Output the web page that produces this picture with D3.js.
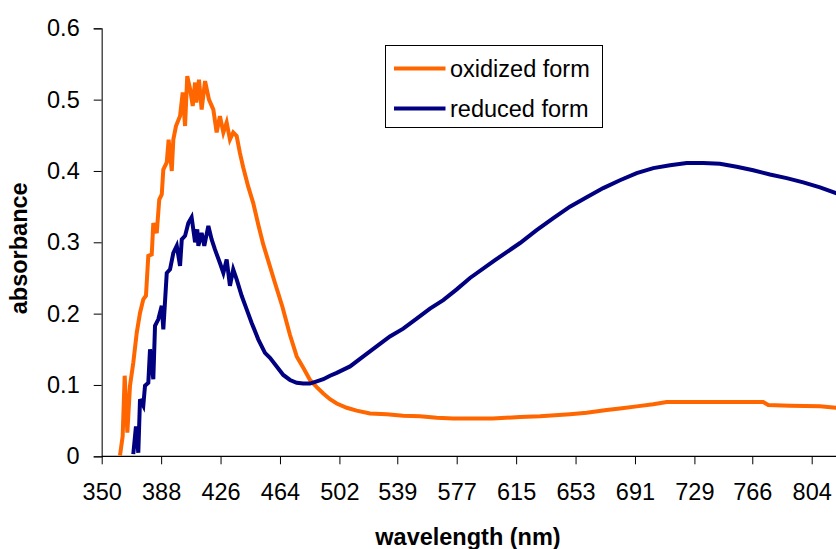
<!DOCTYPE html>
<html>
<head>
<meta charset="utf-8">
<script src="https://cdn.jsdelivr.net/npm/d3@7"></script>
<style>
	body { margin: 0; background: #fff; }
	svg { display: block; font-family: "Liberation Sans", Arial, sans-serif; }
</style>
</head>
<body>
<div id="chart"></div>
<script>
// wavelength (nm), absorbance
const oxidized = [
	[361.7, 0.001], [363.4, 0.028], [364.7, 0.113], [366.4, 0.033], [368.1, 0.099],
	[370.2, 0.131], [372.4, 0.173], [374.5, 0.201], [376.6, 0.220], [378.3, 0.225],
	[379.8, 0.281], [382.0, 0.283], [383.0, 0.327], [385.2, 0.313], [386.8, 0.360],
	[388.4, 0.367], [389.4, 0.402], [391.6, 0.412], [392.8, 0.444], [394.8, 0.400],
	[395.8, 0.444], [397.5, 0.463], [400.1, 0.477], [401.8, 0.510], [403.3, 0.463],
	[404.7, 0.533], [406.5, 0.515], [408.2, 0.491], [409.7, 0.524], [410.5, 0.496],
	[412.2, 0.528], [413.9, 0.486], [416.1, 0.526], [418.6, 0.500], [421.4, 0.486],
	[423.5, 0.454], [425.6, 0.477], [427.8, 0.454], [429.9, 0.468], [432.0, 0.444],
	[434.1, 0.454], [436.3, 0.449], [438.4, 0.425], [440.5, 0.405], [443.7, 0.378],
	[446.9, 0.355], [450.1, 0.325], [453.3, 0.297], [456.5, 0.274], [460.8, 0.243],
	[465.5, 0.210], [470.4, 0.170], [474.7, 0.140], [478.9, 0.124], [483.2, 0.107],
	[487.5, 0.097], [491.7, 0.088], [496.0, 0.080], [500.3, 0.074], [506.7, 0.068],
	[513.0, 0.064], [521.6, 0.060], [532.2, 0.059], [542.8, 0.057], [553.5, 0.056],
	[564.2, 0.054], [574.8, 0.053], [585.5, 0.053], [600.0, 0.053], [617.5, 0.055],
	[630.3, 0.056], [649.4, 0.059], [660.1, 0.061], [672.9, 0.065], [681.4, 0.067],
	[692.1, 0.070], [702.7, 0.073], [711.3, 0.076], [745.3, 0.076], [773.0, 0.076],
	[776.2, 0.072], [790.1, 0.071], [809.3, 0.070], [819.5, 0.068], [822.0, 0.068]
];

const reduced = [
	[370.2, 0.003], [371.9, 0.042], [373.4, 0.005], [374.5, 0.080], [376.6, 0.071],
	[377.7, 0.099], [379.8, 0.103], [380.9, 0.150], [383.0, 0.108], [384.1, 0.183],
	[386.2, 0.192], [388.4, 0.211], [389.4, 0.178], [391.6, 0.257], [393.7, 0.262],
	[395.8, 0.285], [398.0, 0.295], [400.1, 0.267], [401.2, 0.304], [403.3, 0.309],
	[405.4, 0.327], [407.5, 0.335], [409.7, 0.300], [411.1, 0.318], [411.8, 0.295],
	[413.9, 0.313], [415.6, 0.295], [418.2, 0.323], [420.3, 0.304], [422.4, 0.290],
	[425.6, 0.271], [427.8, 0.257], [429.9, 0.276], [432.0, 0.239], [434.1, 0.262],
	[436.3, 0.248], [439.5, 0.225], [442.7, 0.206], [445.9, 0.187], [450.1, 0.164],
	[454.4, 0.145], [457.6, 0.138], [461.9, 0.126], [466.1, 0.114], [470.4, 0.107],
	[474.7, 0.103], [478.9, 0.102], [483.2, 0.102], [487.5, 0.105], [491.7, 0.108],
	[496.0, 0.113], [500.3, 0.117], [508.8, 0.126], [517.3, 0.140], [525.8, 0.154],
	[534.3, 0.168], [542.8, 0.179], [551.4, 0.193], [559.9, 0.207], [568.4, 0.219],
	[577.0, 0.234], [585.5, 0.250], [601.5, 0.275], [617.5, 0.299], [628.1, 0.317],
	[638.8, 0.334], [649.4, 0.350], [660.1, 0.363], [670.7, 0.376], [681.4, 0.387],
	[692.1, 0.397], [702.7, 0.404], [713.4, 0.408], [724.1, 0.411], [734.7, 0.411],
	[745.3, 0.410], [756.0, 0.406], [766.6, 0.401], [777.3, 0.395], [788.0, 0.390],
	[798.6, 0.384], [809.3, 0.377], [819.5, 0.369], [822.0, 0.367]
];

const xTicks = [350, 388, 426, 464, 502, 539, 577, 615, 653, 691, 729, 766, 804];
const yTicks = [0, 0.1, 0.2, 0.3, 0.4, 0.5, 0.6];
const seriesNames = ["oxidized form", "reduced form"];
const seriesColors = ["#FF6600", "#000080"];

const W = 836, H = 549;
const plotLeft = 101.7, plotBottom = 456.3, plotTop = 28.3;
const pxPerNm = 710 / 454;
const fontSize = 23.5;

const svg = d3.select("#chart").append("svg")
	.attr("width", W)
	.attr("height", H);

const x = d3.scaleLinear()
	.domain([350, 825])
	.range([plotLeft, plotLeft + 475 * pxPerNm]);

const y = d3.scaleLinear()
	.domain([0, 0.6])
	.range([plotBottom, plotTop]);

// y axis
const yAxis = svg.append("g")
	.attr("transform", `translate(${plotLeft},0)`)
	.call(d3.axisLeft(y)
		.tickValues(yTicks)
		.tickSize(8)
		.tickPadding(14)
		.tickFormat(d => d === 0 ? "0" : d3.format(".1f")(d)));
yAxis.select(".domain").attr("stroke", "#333").attr("stroke-width", 1.3);
yAxis.selectAll(".tick line").attr("stroke", "#000");
yAxis.selectAll("text")
	.attr("font-size", fontSize)
	.attr("font-family", "Liberation Sans, Arial, sans-serif")
	.attr("fill", "#000");

// x axis
const xAxis = svg.append("g")
	.attr("transform", `translate(0,${plotBottom})`)
	.call(d3.axisBottom(x)
		.tickValues(xTicks)
		.tickSize(8)
		.tickPadding(19)
		.tickFormat(d => String(d)));
xAxis.select(".domain").attr("stroke", "#000").attr("stroke-width", 1.3)
	.attr("d", `M${plotLeft},0H${W}`);
xAxis.selectAll(".tick line").attr("stroke", "#000");
xAxis.selectAll("text")
	.attr("font-size", fontSize)
	.attr("font-family", "Liberation Sans, Arial, sans-serif")
	.attr("fill", "#000");

// lines
const line = d3.line()
	.x(d => x(d[0]))
	.y(d => y(d[1]));

[oxidized, reduced].forEach((data, i) => {
	svg.append("path")
		.datum(data)
		.attr("fill", "none")
		.attr("stroke", seriesColors[i])
		.attr("stroke-width", 4)
		.attr("stroke-linejoin", "miter")
		.attr("d", line);
});

// axis titles
svg.append("text")
	.attr("x", 468)
	.attr("y", 545)
	.attr("text-anchor", "middle")
	.attr("font-size", fontSize)
	.attr("font-weight", "bold")
	.text("wavelength (nm)");

svg.append("text")
	.attr("transform", `translate(27,${(plotTop + plotBottom) / 2 + 6}) rotate(-90)`)
	.attr("text-anchor", "middle")
	.attr("font-size", fontSize)
	.attr("font-weight", "bold")
	.text("absorbance");

// legend
const legend = svg.append("g").attr("transform", "translate(385.5,45.5)");
legend.append("rect")
	.attr("width", 217)
	.attr("height", 82)
	.attr("fill", "#fff")
	.attr("stroke", "#000")
	.attr("stroke-width", 1);

const items = legend.selectAll("g.item")
	.data(seriesNames)
	.enter()
	.append("g")
	.attr("class", "item")
	.attr("transform", (d, i) => `translate(0,${23 + i * 40})`);

items.append("line")
	.attr("x1", 8.5)
	.attr("x2", 60)
	.attr("stroke", (d, i) => seriesColors[i])
	.attr("stroke-width", 4);

items.append("text")
	.attr("x", 64.5)
	.attr("dy", "0.35em")
	.attr("font-size", fontSize)
	.text(d => d);
</script>
</body>
</html>
